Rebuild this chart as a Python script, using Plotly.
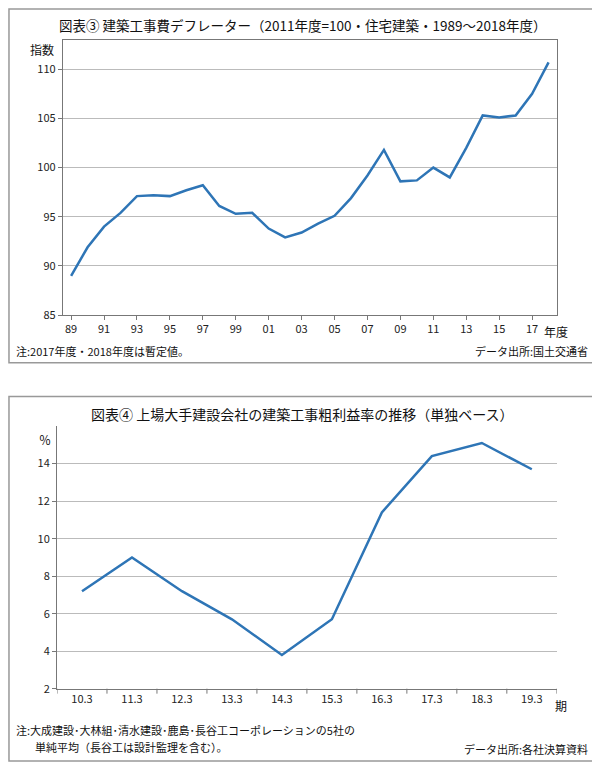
import plotly.graph_objects as go

years = list(range(1989, 2019))
deflator = [89.0, 91.9, 94.0, 95.4, 97.1, 97.2, 97.1, 97.7, 98.2, 96.1, 95.3, 95.4, 93.8, 92.9, 93.4,
            94.3, 95.1, 96.9, 99.2, 101.8, 98.6, 98.7, 100.0, 99.0, 102.0, 105.3, 105.1, 105.3, 107.5, 110.7]
year_ticks = [1989, 1991, 1993, 1995, 1997, 1999, 2001, 2003, 2005, 2007, 2009, 2011, 2013, 2015, 2017]
year_labels = ["89", "91", "93", "95", "97", "99", "01", "03", "05", "07", "09", "11", "13", "15", "17"]

periods = ["10.3", "11.3", "12.3", "13.3", "14.3", "15.3", "16.3", "17.3", "18.3", "19.3"]
margin_rate = [7.2, 9.0, 7.2, 5.7, 3.8, 5.7, 11.4, 14.4, 15.1, 13.7]

W, H = 600, 762
SX = 588 / 600
def px(x): return x * SX / W
def py(y): return 1 - y / H

F = "Noto Sans CJK JP"
blue = "#2E75B6"
fig = go.Figure()
fig.add_trace(go.Scatter(x=years, y=deflator, mode="lines", line=dict(color=blue, width=2.5),
                         xaxis="x", yaxis="y", showlegend=False))
fig.add_trace(go.Scatter(x=list(range(len(periods))), y=margin_rate, mode="lines",
                         line=dict(color=blue, width=2.5), xaxis="x2", yaxis="y2", showlegend=False))

tick = dict(size=11, color="#222", family=F)
fig.update_layout(
    width=W, height=H, margin=dict(l=0, r=0, t=0, b=0),
    paper_bgcolor="white", plot_bgcolor="white", font=dict(family=F),
    xaxis=dict(domain=[px(56), px(560)], range=[1988.5, 2018.5], tickvals=year_ticks, ticktext=year_labels,
               showgrid=False, zeroline=False, showline=True, linecolor="#777", mirror=True,
               ticks="outside", ticklen=4, tickcolor="#777", tickfont=tick, anchor="y"),
    yaxis=dict(domain=[py(310), py(32)], range=[85, 113.0], tickvals=[85, 90, 95, 100, 105, 110],
               showgrid=True, gridcolor="#bbb", zeroline=False, showline=True, linecolor="#777", mirror=True,
               ticks="outside", ticklen=4, tickcolor="#777", tickfont=tick, anchor="x"),
    xaxis2=dict(domain=[px(50), px(560)], range=[-0.5, 9.5], tickvals=list(range(10)), ticktext=periods,
                showgrid=False, zeroline=False, showline=True, linecolor="#777",
                ticks="", tickfont=tick, anchor="y2"),
    yaxis2=dict(domain=[py(687), py(422)], range=[2, 16], tickvals=[2, 4, 6, 8, 10, 12, 14],
                showgrid=True, gridcolor="#bbb", zeroline=False, showline=True, linecolor="#777",
                ticks="outside", ticklen=4, tickcolor="#777", tickfont=tick, anchor="x2"),
)
for k in range(11):
    fig.add_shape(type="line", xref="x2", yref="paper", x0=k - 0.5, x1=k - 0.5, y0=py(687), y1=py(692),
                  line=dict(color="#777", width=1))

fig.add_shape(type="rect", xref="paper", yref="paper", x0=px(1), x1=px(599), y0=py(358), y1=py(1),
              line=dict(color="#999", width=1.5))
fig.add_shape(type="rect", xref="paper", yref="paper", x0=px(1), x1=px(599), y0=py(760), y1=py(392),
              line=dict(color="#999", width=1.5))

def ann(x, y, t, size=12, xa="left"):
    fig.add_annotation(x=px(x), y=py(y), xref="paper", yref="paper", text=t, showarrow=False,
                       xanchor=xa, yanchor="middle", font=dict(size=size, color="#111", family=F))

ann(300, 17, "図表③ 建築工事費デフレーター（2011年度=100・住宅建築・1989～2018年度）", 13.5, "center")
ann(20, 42, "指数", 12)
ann(545, 327, "年度", 12)
ann(6, 346, "注:2017年度・2018年度は暫定値。", 11)
ann(594, 346, "データ出所:国土交通省", 11, "right")
ann(300, 410, "図表④ 上場大手建設会社の建築工事粗利益率の推移（単独ベース）", 14, "center")
ann(30, 436, "％", 12)
ann(556, 704, "期", 12)
ann(6, 729, "注:大成建設･大林組･清水建設･鹿島･長谷工コーポレーションの5社の", 11)
ann(26, 746, "単純平均（長谷工は設計監理を含む）。", 11)
ann(594, 748, "データ出所:各社決算資料", 11, "right")

fig.write_html("out.html")
